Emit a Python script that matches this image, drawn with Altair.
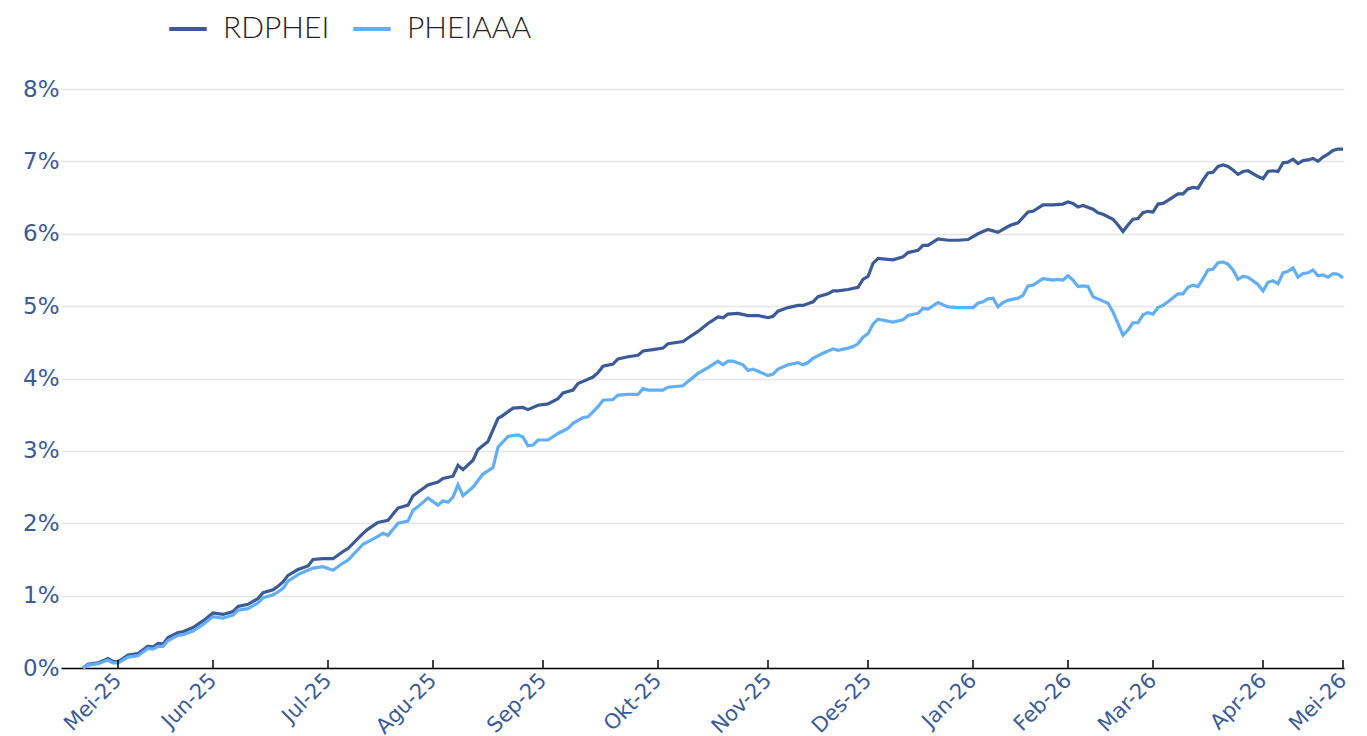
import altair as alt
import pandas as pd

# Trading-day index (x) and cumulative return in % (y)
rd_days = [0, 1, 3, 5, 6, 7, 8, 9, 11, 12, 13, 14, 15, 16, 17, 19, 20, 22, 24, 26, 28, 30, 31, 33, 35, 36, 38, 39, 40, 41,
           43, 45, 46, 48, 50, 52, 53, 56, 57, 59, 61, 63, 65, 66, 69, 71, 72, 74, 75, 76, 78, 79, 81, 83, 84, 86, 88, 89,
           91, 93, 95, 96, 98, 99, 100, 102, 103, 104, 106, 107, 109, 111, 112, 114, 116, 117, 120, 121, 123, 125, 127,
           128, 129, 131, 133, 135, 137, 138, 139, 141, 143, 144, 146, 147, 149, 150, 151, 153, 155, 156, 157, 158, 159,
           162, 164, 165, 167, 168, 169, 171, 173, 175, 177, 179, 180, 181, 183, 184, 185, 186, 187, 189, 190, 192, 194,
           196, 197, 198, 199, 200, 202, 203, 204, 206, 207, 208, 209, 210, 211, 212, 213, 214, 215, 216, 217, 219, 220,
           221, 222, 223, 224, 225, 226, 227, 228, 229, 230, 231, 232, 233, 235, 236, 237, 238, 239, 240, 241, 242, 243,
           244, 245, 246, 247, 248, 249, 250, 251, 252]
rd_vals = [0.00, 0.05, 0.07, 0.13, 0.09, 0.09, 0.13, 0.18, 0.20, 0.25, 0.30, 0.29, 0.34, 0.33, 0.42, 0.49, 0.50, 0.56,
           0.65, 0.76, 0.74, 0.78, 0.85, 0.88, 0.96, 1.04, 1.08, 1.13, 1.19, 1.28,
           1.36, 1.41, 1.50, 1.51, 1.51, 1.61, 1.65, 1.86, 1.92, 2.01, 2.04, 2.21, 2.25, 2.38, 2.53, 2.57, 2.62, 2.65,
           2.80, 2.74, 2.87, 3.02, 3.13, 3.45, 3.49, 3.59, 3.60, 3.57,
           3.63, 3.65, 3.72, 3.80, 3.84, 3.93, 3.96, 4.02, 4.08, 4.17, 4.20, 4.27, 4.30, 4.32, 4.38, 4.40, 4.42, 4.48,
           4.51, 4.56, 4.65, 4.76, 4.85,
           4.84, 4.89, 4.90, 4.87, 4.87, 4.84, 4.86, 4.93, 4.98, 5.01, 5.01, 5.06, 5.13, 5.17, 5.21, 5.21, 5.23, 5.26,
           5.37, 5.41, 5.59, 5.66,
           5.64, 5.68, 5.74, 5.77, 5.84, 5.84, 5.93, 5.91, 5.91, 5.92, 6.00, 6.03, 6.06, 6.02, 6.06, 6.10, 6.13, 6.15,
           6.30, 6.31, 6.40, 6.40,
           6.41, 6.44, 6.42, 6.37, 6.39, 6.34, 6.29, 6.27, 6.20, 6.12, 6.03, 6.12, 6.20, 6.21, 6.29, 6.31, 6.30, 6.41,
           6.42, 6.46, 6.55, 6.55,
           6.62, 6.64, 6.63, 6.74, 6.84, 6.85, 6.93, 6.95, 6.93, 6.88, 6.82, 6.86, 6.87, 6.79, 6.76, 6.86, 6.87, 6.86,
           6.98, 6.99, 7.03, 6.97,
           7.01, 7.02, 7.04, 7.00, 7.06, 7.10, 7.15, 7.17, 7.17]

ph_days = [0, 1, 3, 5, 6, 7, 8, 9, 11, 12, 13, 14, 15, 16, 17, 19, 20, 22, 24, 26, 28, 30, 31, 33, 35, 36, 38, 39, 40, 41,
           43, 46, 48, 50, 52, 53, 56, 58, 60, 61, 63, 65, 66, 67, 69, 71, 72, 73, 74, 75, 76, 78, 80, 82, 83, 85, 87,
           88, 89, 90, 91, 93, 95, 97, 98, 100, 101, 102, 103, 104, 106, 107, 109, 111, 112, 113, 116, 117, 120, 121,
           123, 125, 127, 128, 129, 130, 132, 133, 134, 135, 137, 138, 139, 141, 143, 144, 145, 146, 148, 150, 151, 153,
           154, 155, 156, 157, 158, 159, 162, 164, 165, 167, 168, 169, 171, 173, 175, 178, 179, 180, 181, 182, 183, 184,
           185, 187, 188, 189, 190, 192, 194, 195, 196, 197, 198, 199, 200, 201, 202, 203, 205, 206, 207, 208, 209, 210,
           211, 212, 213, 214, 215, 216, 217, 219, 220, 221, 222, 223, 224, 225, 226, 227, 228, 229, 230, 231, 232, 233,
           235, 236, 237, 238, 239, 240, 241, 242, 243, 244, 245, 246, 247, 248, 249, 250, 251, 252]
ph_vals = [0.00, 0.04, 0.06, 0.11, 0.07, 0.07, 0.11, 0.15, 0.17, 0.22, 0.27, 0.26, 0.30, 0.30, 0.38, 0.45, 0.46, 0.51,
           0.60, 0.71, 0.69, 0.73, 0.80, 0.82, 0.90, 0.97, 1.01, 1.05, 1.10, 1.20,
           1.29, 1.38, 1.40, 1.35, 1.45, 1.49, 1.71, 1.78, 1.86, 1.83, 2.00, 2.03, 2.18, 2.23, 2.35, 2.25, 2.31, 2.29,
           2.36, 2.53, 2.38, 2.50, 2.68, 2.77, 3.05, 3.20, 3.22,
           3.19, 3.07, 3.08, 3.15, 3.15, 3.24, 3.31, 3.38, 3.46, 3.47, 3.54, 3.61, 3.70, 3.71, 3.77, 3.78, 3.78, 3.86,
           3.84, 3.84, 3.88, 3.90, 3.96,
           4.07, 4.15, 4.24, 4.19, 4.24, 4.24, 4.19, 4.11, 4.13, 4.10, 4.04, 4.06, 4.13, 4.19, 4.22, 4.19, 4.22, 4.28,
           4.35, 4.41, 4.39, 4.42,
           4.44, 4.48, 4.57, 4.62, 4.75, 4.82, 4.78, 4.81, 4.87, 4.90, 4.97, 4.96, 5.05, 4.99, 4.98, 4.98, 5.04, 5.06,
           5.10, 5.11, 4.99, 5.05,
           5.08, 5.11, 5.15, 5.28, 5.29, 5.38, 5.36, 5.37, 5.36, 5.42, 5.36, 5.27, 5.28, 5.27, 5.13, 5.10, 5.04, 4.92,
           4.76, 4.60, 4.67, 4.77,
           4.77, 4.88, 4.91, 4.89, 4.98, 5.01, 5.06, 5.17, 5.17, 5.26, 5.29, 5.27, 5.38, 5.50, 5.51, 5.60, 5.61, 5.58,
           5.50, 5.37, 5.41, 5.40,
           5.30, 5.21, 5.33, 5.35, 5.31, 5.46, 5.48, 5.53, 5.40, 5.45, 5.46, 5.50, 5.42, 5.43, 5.40, 5.45, 5.44, 5.39]

series_names = ["RDPHEI", "PHEIAAA"]
series_colors = ["#3b5a96", "#62aef5"]

tick_days = [7, 26, 49, 70, 92, 115, 137, 157, 178, 197, 214, 236, 252]
tick_labels = ["Mei-25", "Jun-25", "Jul-25", "Agu-25", "Sep-25", "Okt-25", "Nov-25", "Des-25",
               "Jan-26", "Feb-26", "Mar-26", "Apr-26", "Mei-26"]
y_ticks = [0, 1, 2, 3, 4, 5, 6, 7, 8]

df = pd.concat([
    pd.DataFrame({"day": rd_days, "value": [v / 100 for v in rd_vals], "series": "RDPHEI"}),
    pd.DataFrame({"day": ph_days, "value": [v / 100 for v in ph_vals], "series": "PHEIAAA"}),
])
ticks_df = pd.DataFrame({"day": tick_days})

W, H = 1283, 579
label_color = "#3b5a96"

label_expr = "[" + ",".join(f"'{t}'" for t in tick_labels) + "][indexof([" + ",".join(str(d) for d in tick_days) + "], datum.value)]"

x_scale = alt.Scale(domain=[-4.4, 252.2], nice=False, zero=False)

lines = alt.Chart(df).mark_line(strokeWidth=3.2, interpolate="linear").encode(
    x=alt.X("day:Q", scale=x_scale, title=None,
            axis=alt.Axis(values=tick_days, labelExpr=label_expr, ticks=False, grid=False,
                          domainColor="#000000", domainWidth=1.5, labelAngle=-45, labelAlign="right",
                          labelBaseline="middle", labelColor=label_color, labelFontSize=21,
                          labelFont="DejaVu Sans", labelPadding=9, labelOverlap=False,
                          labelBound=False, labelFlush=False)),
    y=alt.Y("value:Q", scale=alt.Scale(domain=[0, 0.08], nice=False), title=None,
            axis=alt.Axis(values=[v / 100 for v in y_ticks], format=".0%", domain=False, ticks=False,
                          gridColor="#e6e6e6", gridWidth=1.5, labelColor=label_color, labelFontSize=23,
                          labelFont="DejaVu Sans", labelPadding=2)),
    color=alt.Color("series:N", scale=alt.Scale(domain=series_names, range=series_colors), sort=series_names,
                    legend=alt.Legend(title=None, orient="none", legendX=106, legendY=-81, direction="horizontal",
                                      symbolType="stroke", symbolStrokeWidth=4, symbolSize=1400,
                                      labelFont="Lato", labelFontSize=30, labelFontWeight=300,
                                      labelColor="#222222", labelOffset=14, columnPadding=15, padding=0)),
)

tick_marks = alt.Chart(ticks_df).mark_rule(color="#000000", strokeWidth=1.5).encode(
    x=alt.X("day:Q", scale=x_scale),
    y=alt.value(H),
    y2=alt.value(H - 8),
)

chart = alt.layer(lines, tick_marks).properties(
    width=W, height=H,
    autosize=alt.AutoSizeParams(type="none"),
    padding={"left": 53, "top": 81, "right": 15, "bottom": 72},
).configure_view(stroke=None)

chart.save("out.html", embed_options={"renderer": "svg", "actions": False})
